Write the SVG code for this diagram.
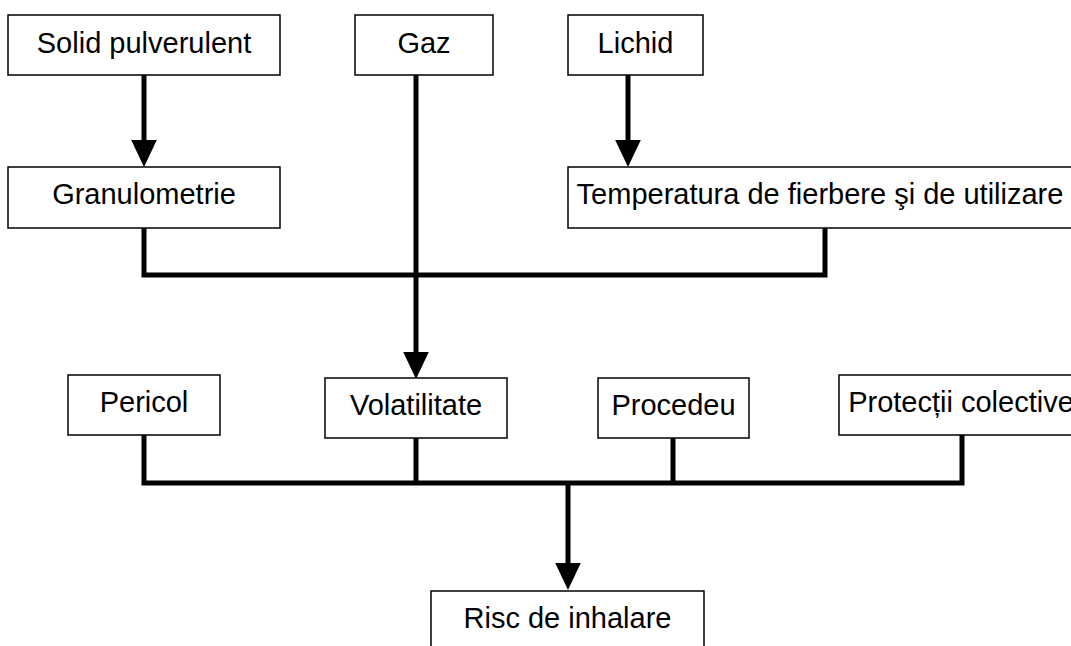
<svg xmlns="http://www.w3.org/2000/svg" width="1071" height="646" viewBox="0 0 1071 646">
  <style>
    .box { fill: #fff; stroke: #000; stroke-width: 1.5; }
    .lbl { font-family: "Liberation Sans", Arial, sans-serif; font-size: 29px; fill: #000; text-anchor: middle; }
    .wire { fill: none; stroke: #000; stroke-width: 5; stroke-linejoin: miter; }
  </style>
  <defs>
    <marker id="head" markerUnits="userSpaceOnUse" markerWidth="27" markerHeight="26" refX="0" refY="12.8" orient="auto" overflow="visible">
      <path d="M0,0 L27,12.8 L0,25.6 Z" fill="#000"/>
    </marker>
  </defs>
  <rect width="1071" height="646" fill="#fff"/>

  <g id="connectors">
    <line class="wire" x1="144" y1="75" x2="144" y2="140" marker-end="url(#head)"/>
    <line class="wire" x1="628" y1="75" x2="628" y2="140" marker-end="url(#head)"/>
    <polyline class="wire" points="144,228 144,275 825,275 825,228"/>
    <line class="wire" x1="416" y1="75" x2="416" y2="352" marker-end="url(#head)"/>
    <polyline class="wire" points="144,435 144,483 962,483 962,435"/>
    <line class="wire" x1="416" y1="438" x2="416" y2="483"/>
    <line class="wire" x1="673" y1="438" x2="673" y2="483"/>
    <line class="wire" x1="568" y1="483" x2="568" y2="563" marker-end="url(#head)"/>
  </g>

  <g id="solid">
    <rect class="box" x="8" y="15" width="272" height="60"/>
    <text class="lbl" x="144" y="53">Solid pulverulent</text>
  </g>
  <g id="gaz">
    <rect class="box" x="355" y="15" width="138" height="60"/>
    <text class="lbl" x="424" y="53">Gaz</text>
  </g>
  <g id="lichid">
    <rect class="box" x="568" y="15" width="135" height="60"/>
    <text class="lbl" x="635.5" y="53">Lichid</text>
  </g>
  <g id="granulometrie">
    <rect class="box" x="8" y="167" width="272" height="61"/>
    <text class="lbl" x="144" y="204">Granulometrie</text>
  </g>
  <g id="temperatura">
    <rect class="box" x="568" y="167" width="520" height="61"/>
    <text class="lbl" x="820" y="204">Temperatura de fierbere şi de utilizare</text>
  </g>
  <g id="pericol">
    <rect class="box" x="68" y="375" width="152" height="60"/>
    <text class="lbl" x="144" y="412">Pericol</text>
  </g>
  <g id="volatilitate">
    <rect class="box" x="325" y="378" width="182" height="60"/>
    <text class="lbl" x="416" y="415">Volatilitate</text>
  </g>
  <g id="procedeu">
    <rect class="box" x="598" y="378" width="151" height="60"/>
    <text class="lbl" x="673.5" y="415">Procedeu</text>
  </g>
  <g id="protectii">
    <rect class="box" x="839" y="375" width="250" height="60"/>
    <text class="lbl" x="961" y="412">Protecții colective</text>
  </g>
  <g id="risc">
    <rect class="box" x="431" y="591" width="273" height="70"/>
    <text class="lbl" x="567.5" y="628">Risc de inhalare</text>
  </g>
</svg>
